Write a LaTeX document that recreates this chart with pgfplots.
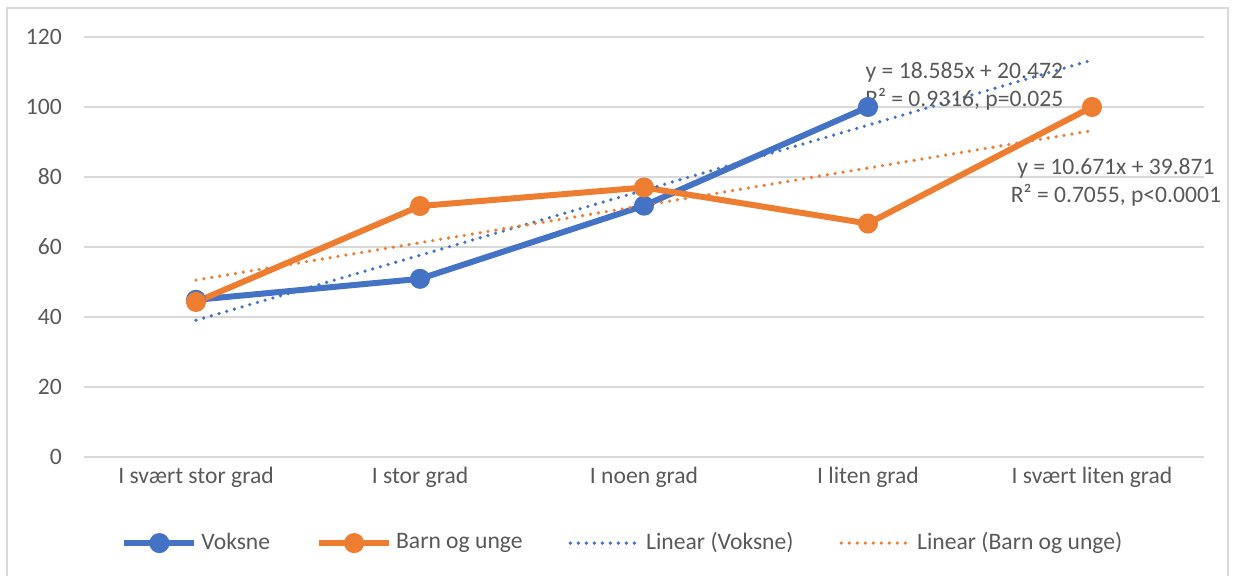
\documentclass[border=0pt]{standalone}
\usepackage{fontspec}
\setmainfont{Carlito}
\usepackage{pgfplots}
\pgfplotsset{compat=1.18}
\definecolor{cblue}{HTML}{4472C4}
\definecolor{corange}{HTML}{ED7D31}
\definecolor{txtgray}{HTML}{595959}
\definecolor{gridgray}{HTML}{D9D9D9}
\begin{document}
\begin{tikzpicture}
\fontsize{11.8pt}{14pt}\selectfont
\path[use as bounding box] (0,0) rectangle (616.5pt,288pt);
\draw[gridgray, line width=0.75pt] (3.5pt,-5pt) -- (3.5pt,284pt) -- (614pt,284pt) -- (614pt,-5pt);
\begin{axis}[
  at={(42pt,59.5pt)}, anchor=south west,
  scale only axis, width=560pt, height=210pt,
  xmin=0.5, xmax=5.5, ymin=0, ymax=120,
  ytick={0,20,...,120},
  xtick={1,2,3,4,5},
  xticklabels={I svært stor grad, I stor grad, I noen grad, I liten grad, I svært liten grad},
  axis line style={draw=none},
  major tick length=0pt,
  ymajorgrids, grid style={gridgray, line width=0.75pt},
  tick label style={font=\fontsize{11.8pt}{14pt}\selectfont, text=txtgray},
  /pgf/number format/assume math mode=true,
  yticklabel style={anchor=east, xshift=-7pt},
  xticklabel style={anchor=center, yshift=-10pt},
  clip=false,
  legend columns=4,
  legend style={at={(0.482,-0.205)}, anchor=center, draw=none, fill=none,
    font=\fontsize{11.8pt}{14pt}\selectfont, text=txtgray,
    /tikz/every even column/.append style={column sep=21pt},
    inner sep=0pt, cells={anchor=west}},
  legend image code/.code={\draw[mark repeat=2,mark phase=2,#1] plot coordinates {(0pt,0pt) (17.5pt,0pt) (35pt,0pt)};},
]
\addplot[cblue, line width=3pt, mark=*, mark size=3.5pt, mark options={solid}] coordinates {(1,44.9) (2,50.9) (3,71.8) (4,100)};
\addlegendentry{Voksne}
\addplot[corange, line width=3pt, mark=*, mark size=3.5pt, mark options={solid}] coordinates {(1,44.3) (2,71.7) (3,77.0) (4,66.7) (5,100)};
\addlegendentry{Barn og unge}
\addplot[cblue, line width=1.8pt, line cap=round, dash pattern=on 0pt off 4pt, no marks] coordinates {(1,39.057) (5,113.397)};
\addlegendentry{Linear (Voksne)}
\addplot[corange, line width=1.8pt, line cap=round, dash pattern=on 0pt off 4pt, no marks] coordinates {(1,50.542) (5,93.226)};
\addlegendentry{Linear (Barn og unge)}
\node[text=txtgray, align=center, font=\fontsize{11.8pt}{14pt}\selectfont] at (axis cs:4.43,106) {y = 18.585x + 20.472\\R² = 0.9316, p=0.025};
\node[text=txtgray, align=center, font=\fontsize{11.8pt}{14pt}\selectfont] at (axis cs:5.107,78.6) {y = 10.671x + 39.871\\R² = 0.7055, p<0.0001};
\end{axis}
\end{tikzpicture}
\end{document}
